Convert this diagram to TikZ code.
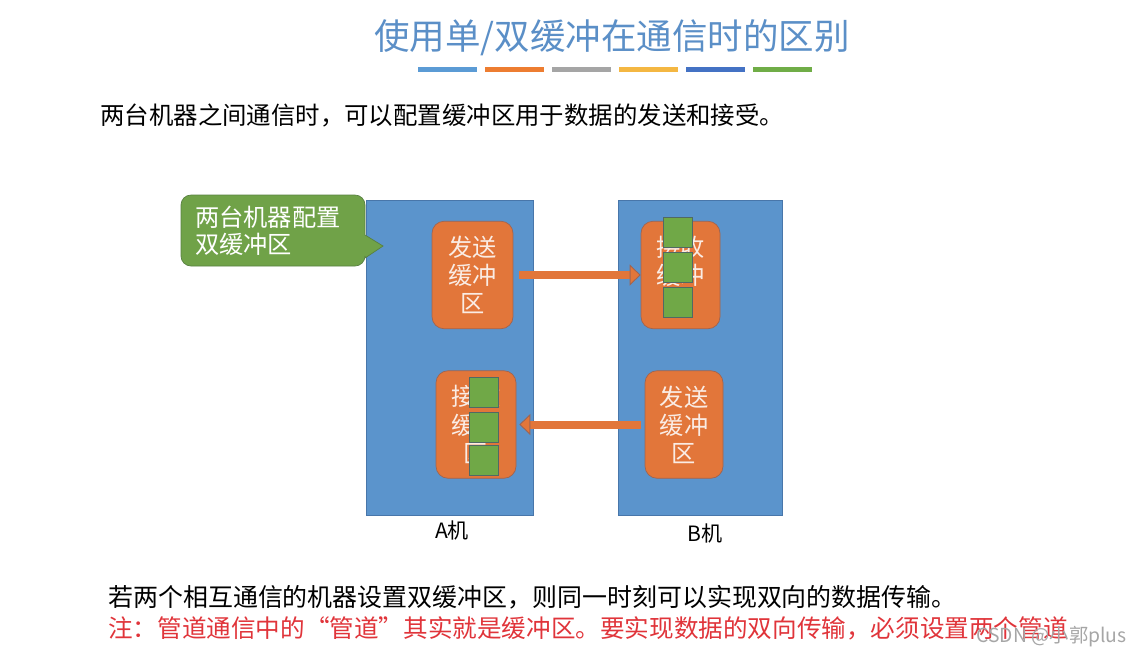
\documentclass[tikz,border=0pt]{standalone}
\usepackage{fontspec}
\setmainfont{Noto Sans CJK SC}
\usetikzlibrary{arrows.meta,positioning}

\definecolor{titleblue}{RGB}{91,143,199}
\definecolor{machblue}{RGB}{91,148,204}
\definecolor{machedge}{RGB}{72,118,170}
\definecolor{buforange}{RGB}{226,118,58}
\definecolor{bufedge}{RGB}{160,100,80}
\definecolor{bufwhite}{RGB}{250,236,228}
\definecolor{slotgreen}{RGB}{112,168,71}
\definecolor{slotedge}{RGB}{80,105,100}
\definecolor{notegreen}{RGB}{112,162,72}
\definecolor{noteedge}{RGB}{88,128,66}
\definecolor{notered}{RGB}{224,52,58}
\definecolor{barblue}{RGB}{91,155,213}
\definecolor{barorange}{RGB}{237,125,49}
\definecolor{bargray}{RGB}{165,165,165}
\definecolor{baryellow}{RGB}{244,183,66}
\definecolor{bardark}{RGB}{68,114,196}
\definecolor{bargreen}{RGB}{112,173,71}

\begin{document}
\begin{tikzpicture}[x=0.02cm,y=-0.02cm,
    machine/.style={rectangle,draw=machedge,fill=machblue,minimum height=6.3cm,inner sep=0pt},
    buffer/.style={rectangle,rounded corners=0.24cm,draw=bufedge,fill=buforange,text=bufwhite,
                   align=center,minimum height=2.15cm,inner sep=0pt,font=\fontsize{13.8}{16}\selectfont},
    slot/.style={rectangle,draw=slotedge,fill=slotgreen,minimum width=0.58cm,minimum height=0.6cm,inner sep=0pt},
    flow/.style={color=buforange,line width=0.16cm,
                 -{Triangle[length=0.22cm,width=0.42cm,line width=0.5pt,color=bufedge,fill=buforange]}},
    body/.style={anchor=west,inner sep=0pt,font=\fontsize{13.9}{16}\selectfont}]

  \useasboundingbox (0,0) rectangle (1142,657);

  % title and colour bars
  \node[text=titleblue,font=\fontsize{20.2}{24}\selectfont] (title) at (612,38) {使用单/双缓冲在通信时的区别};
  \foreach \c [count=\i from 0] in {barblue,barorange,bargray,baryellow,bardark,bargreen}
    \draw[\c,line width=0.11cm] (418+67*\i,69.5) -- ++(59,0);

  \node[body] (intro) at (100,115) {两台机器之间通信时，可以配置缓冲区用于数据的发送和接受。};

  % machines
  \node[machine,minimum width=3.34cm] (machA) at (449.5,357.5) {};
  \node[machine,minimum width=3.28cm] (machB) at (700,357.5) {};
  \node[font=\fontsize{12}{14}\selectfont] (labA) at (452,530) {A机};
  \node[font=\fontsize{12}{14}\selectfont] (labB) at (705,533) {B机};

  % callout
  \draw[fill=notegreen,draw=noteedge] (181,215) [rounded corners=0.2cm] -- (181,195) -- (365,195)
    [sharp corners] -- (365,235) -- (383,246) -- (365,258) [rounded corners=0.2cm] -- (365,266) -- (181,266) -- cycle;
  \node[text=white,align=left,text width=3.12cm,inner sep=0pt,font=\fontsize{13.8}{15.3}\selectfont]
    (note) at (273,231) {两台机器配置\\双缓冲区};

  % buffers
  \node[buffer,minimum width=1.62cm] (sendA) at (472.5,275) {发送\\缓冲\\区};
  \node[buffer,minimum width=1.58cm] (recvB) at (680.5,275) {接收\\缓冲\\区};
  \node[buffer,minimum width=1.6cm] (recvA) at (476,424.5) {接收\\缓冲\\区};
  \node[buffer,minimum width=1.56cm] (sendB) at (684,424.5) {发送\\缓冲\\区};

  % data in the receive buffers
  \node[slot] (slotB1) at (678,232) {};
  \node[slot,below=0.1cm of slotB1] (slotB2) {};
  \node[slot,below=0.08cm of slotB2] (slotB3) {};
  \node[slot] (slotA1) at (484,392.3) {};
  \node[slot,below=0.08cm of slotA1] (slotA2) {};
  \node[slot,below=0.06cm of slotA2] (slotA3) {};

  \path[flow]
    (sendA) edge[shorten <=0.12cm] (recvB)
    (sendB) edge[shorten <=0.08cm,shorten >=0.06cm] (recvA);

  % bottom lines
  \node[body,font=\fontsize{14.2}{16}\selectfont] (sum) at (108,597)
    {若两个相互通信的机器设置双缓冲区，则同一时刻可以实现双向的数据传输。};
  \node[body,text=notered,font=\fontsize{14}{16}\selectfont] (warn) at (108,628)
    {注：管道通信中的“管道”其实就是缓冲区。要实现数据的双向传输，必须设置两个管道};
  \node[anchor=east,inner sep=0pt,text=black!35,font=\fontsize{11}{13}\selectfont] (mark) at (1127,637) {CSDN @小郭plus};
\end{tikzpicture}
\end{document}
